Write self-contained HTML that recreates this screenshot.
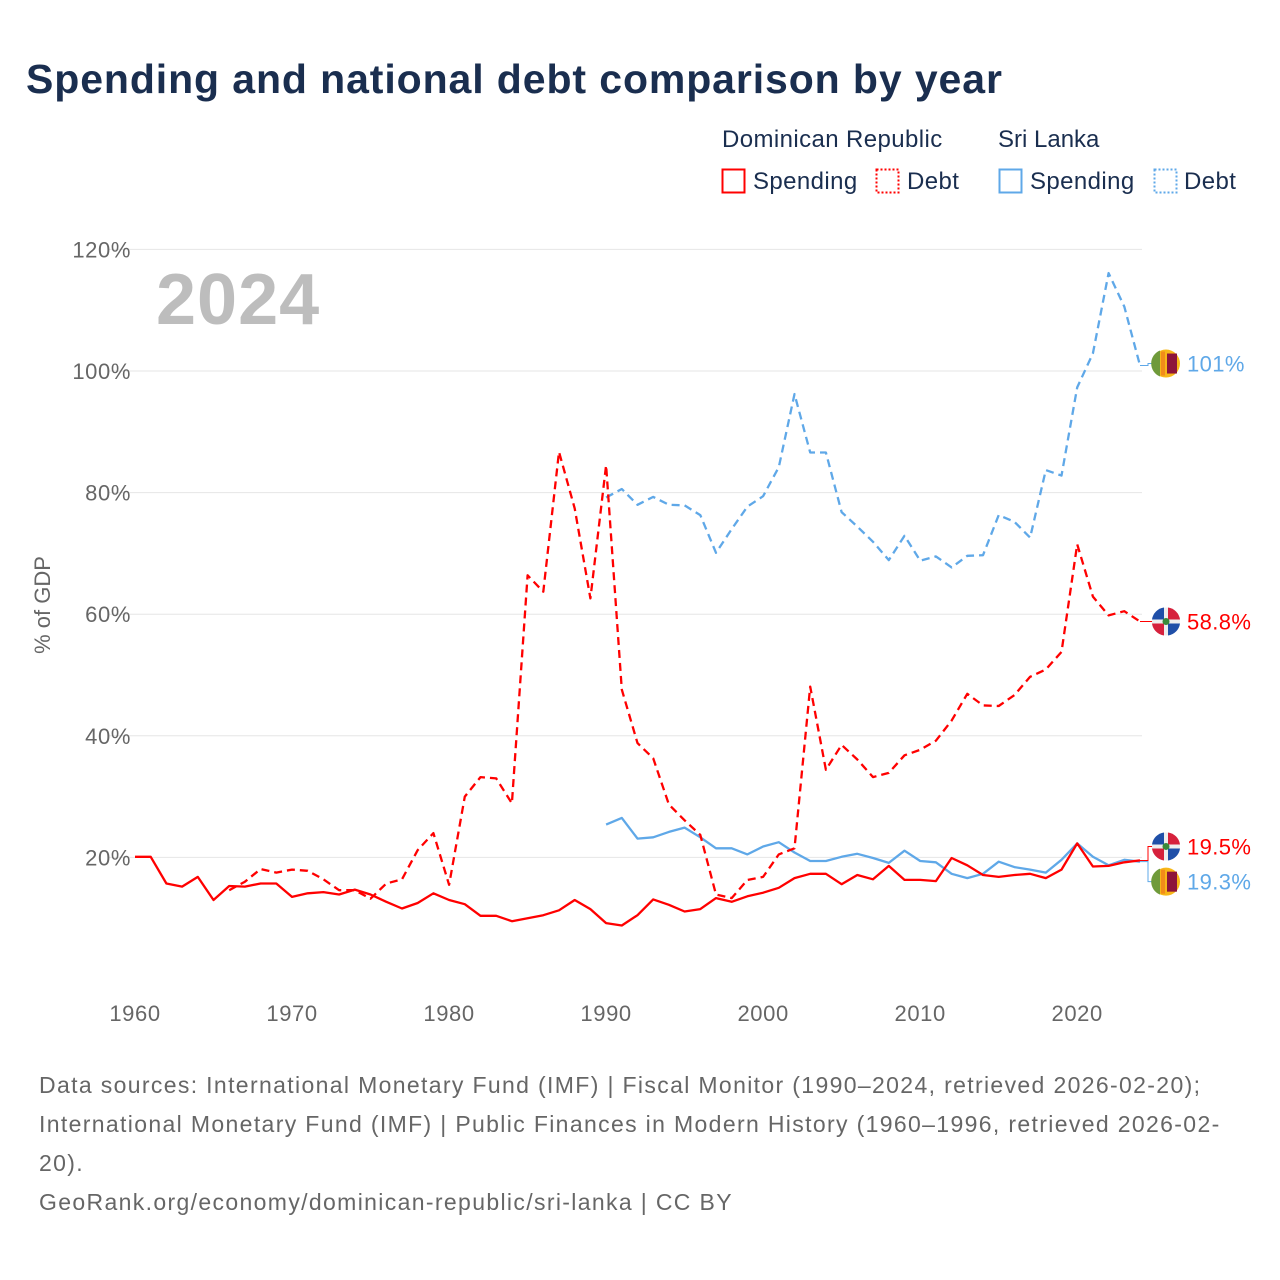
<!DOCTYPE html>
<html><head><meta charset="utf-8"><style>
body{margin:0;background:#fff;font-family:"Liberation Sans",sans-serif}
#wrap{position:relative;width:1280px;height:1280px;overflow:hidden}
svg text{font-family:"Liberation Sans",sans-serif}
</style></head><body>
<div id="wrap">
<svg id="chart" width="1280" height="1280">
<text x="26" y="93" font-size="41" font-weight="bold" fill="#1a2e4f" letter-spacing="0.9">Spending and national debt comparison by year</text>
<g>
<text x="722" y="147" font-size="24" fill="#1a2e4f" letter-spacing="0.4">Dominican Republic</text>
<text x="998" y="147" font-size="24" fill="#1a2e4f">Sri Lanka</text>
<rect x="722.5" y="169.5" width="22" height="23" fill="none" stroke="#f00" stroke-width="2"/>
<text x="753" y="189" font-size="24" fill="#1a2e4f" letter-spacing="0.4">Spending</text>
<rect x="876.5" y="169.5" width="22" height="23" fill="none" stroke="#f00" stroke-width="2" stroke-dasharray="2,2"/>
<text x="907" y="189" font-size="24" fill="#1a2e4f" letter-spacing="0.4">Debt</text>
<rect x="999.5" y="169.5" width="22" height="23" fill="none" stroke="#5fa8e8" stroke-width="2"/>
<text x="1030" y="189" font-size="24" fill="#1a2e4f" letter-spacing="0.4">Spending</text>
<rect x="1154.5" y="169.5" width="22" height="23" fill="none" stroke="#5fa8e8" stroke-width="2" stroke-dasharray="2,2"/>
<text x="1184" y="189" font-size="24" fill="#1a2e4f" letter-spacing="0.4">Debt</text>
</g>
<text x="156" y="324" font-size="72" font-weight="bold" fill="#bdbdbd" letter-spacing="1">2024</text>
<text transform="translate(50,605) rotate(-90)" text-anchor="middle" font-size="22" fill="#666">% of GDP</text>
<g id="grid"></g><g id="series"></g><g id="ends"></g>
<g font-size="23" fill="#666" letter-spacing="1.35">
<text x="39" y="1093">Data sources: International Monetary Fund (IMF) | Fiscal Monitor (1990–2024, retrieved 2026-02-20);</text>
<text x="39" y="1132">International Monetary Fund (IMF) | Public Finances in Modern History (1960–1996, retrieved 2026-02-</text>
<text x="39" y="1171">20).</text>
<text x="39" y="1210">GeoRank.org/economy/dominican-republic/sri-lanka | CC BY</text>
</g>
</svg></div>
<script>
const yTicks=[20,40,60,80,100,120];
const xTicks=[1960,1970,1980,1990,2000,2010,2020];
const drSpendStart=1960;
const drSpending=[20.1,20.1,15.7,15.2,16.8,13.0,15.3,15.2,15.7,15.7,13.5,14.1,14.3,13.9,14.7,13.9,12.7,11.6,12.5,14.1,13.0,12.3,10.4,10.4,9.5,10.0,10.5,11.3,13.0,11.5,9.2,8.8,10.5,13.1,12.2,11.1,11.5,13.3,12.7,13.6,14.2,15.0,16.6,17.3,17.3,15.6,17.1,16.4,18.6,16.3,16.3,16.1,19.9,18.7,17.1,16.8,17.1,17.3,16.6,18.0,22.3,18.5,18.6,19.2,19.5];
const drDebtStart=1966;
const drDebt=[14.6,16.0,18.1,17.5,18.0,17.8,16.4,14.6,14.6,13.2,15.7,16.4,21.2,24.0,15.5,30.0,33.2,33.0,28.9,66.4,63.7,86.7,77.4,62.6,84.5,47.6,38.8,36.3,28.7,26.1,23.7,13.9,13.3,16.3,16.8,20.5,21.5,48.1,34.4,38.5,36.1,33.2,33.9,36.8,37.7,39.2,42.5,46.9,45.0,44.9,46.7,49.7,50.9,53.8,71.5,62.9,59.8,60.5,58.8];
const slStart=1990;
const slSpending=[25.4,26.5,23.1,23.3,24.2,24.9,23.3,21.5,21.5,20.5,21.8,22.5,20.8,19.4,19.4,20.1,20.6,19.9,19.1,21.1,19.4,19.2,17.3,16.6,17.3,19.3,18.4,18.0,17.5,19.6,22.3,20.1,18.7,19.6,19.3];
const slDebt=[79.2,80.6,78.0,79.3,78.0,77.9,76.3,70.1,74.0,77.7,79.4,84.2,96.2,86.6,86.6,76.8,74.4,71.9,68.9,72.9,68.8,69.5,67.7,69.6,69.7,76.3,75.2,72.6,83.7,82.8,97.3,102.9,116.1,110.6,100.9];
const endLabels=["101%","58.8%","19.5%","19.3%"];

const NS="http://www.w3.org/2000/svg";
const X0=135,X1=1140,Y0=979,YS=6.08;
function xs(yr){return X0+(yr-1960)*(X1-X0)/64;}
function ys(v){return Y0-v*YS;}
function mk(tag,attrs,parent){const e=document.createElementNS(NS,tag);for(const k in attrs)e.setAttribute(k,attrs[k]);parent.appendChild(e);return e;}
const grid=document.getElementById('grid');
yTicks.forEach(t=>{
  const l=mk('line',{x1:108,x2:1142,y1:ys(t),y2:ys(t),stroke:'#e6e6e6','stroke-width':1},grid);
  
  
  const tx=mk('text',{x:131,y:ys(t)+8,'text-anchor':'end','font-size':22,fill:'#666','letter-spacing':0.6},grid);
  tx.textContent=t+'%';
  
  
});
xTicks.forEach(t=>{
  const tx=mk('text',{x:xs(t),y:1021,'text-anchor':'middle','font-size':22,fill:'#666','letter-spacing':0.6},grid);
  tx.textContent=t;
  
  
});
const ser=document.getElementById('series');
function line(vals,start,color,dash,name){
  const d=vals.map((v,i)=>(i?'L':'M')+xs(start+i).toFixed(1)+','+ys(v).toFixed(1)).join('');
  const p=mk('path',{d:d,fill:'none',stroke:color,'stroke-width':2.3,'stroke-linejoin':'round'},ser);
  if(dash)p.setAttribute('stroke-dasharray','8,5');
  
  
}
const RED='#ff0000',BLUE='#5fa8e8';
line(slDebt,slStart,BLUE,true,'sri-lanka-debt-line');
line(slSpending,slStart,BLUE,false,'sri-lanka-spending-line');
line(drDebt,drDebtStart,RED,true,'dominican-republic-debt-line');
line(drSpending,drSpendStart,RED,false,'dominican-republic-spending-line');

const ends=document.getElementById('ends');
function flagSL(cx,cy,g){
  mk('circle',{cx:cx,cy:cy,r:14,fill:'#f7b718'},g);
  mk('path',{d:`M${cx-6},${cy-13}A14,14 0 0 0 ${cx-6},${cy+13}Z`,fill:'#6f9a3a'},g);
  mk('rect',{x:cx-5,y:cy-12,width:4,height:24,fill:'#f28c1a'},g);
  mk('rect',{x:cx+1,y:cy-10,width:10,height:20,fill:'#8d153a'},g);
}
function flagDR(cx,cy,g){
  mk('circle',{cx:cx,cy:cy,r:14,fill:'#eee'},g);
  mk('path',{d:`M${cx-14},${cy-2}A14,14 0 0 1 ${cx-2},${cy-14}L${cx-2},${cy-2}Z`,fill:'#1f4fa8'},g);
  mk('path',{d:`M${cx+2},${cy-14}A14,14 0 0 1 ${cx+14},${cy-2}L${cx+2},${cy-2}Z`,fill:'#d6213c'},g);
  mk('path',{d:`M${cx-14},${cy+2}L${cx-2},${cy+2}L${cx-2},${cy+14}A14,14 0 0 1 ${cx-14},${cy+2}Z`,fill:'#d6213c'},g);
  mk('path',{d:`M${cx+2},${cy+2}L${cx+14},${cy+2}A14,14 0 0 1 ${cx+2},${cy+14}Z`,fill:'#1f4fa8'},g);
  mk('circle',{cx:cx,cy:cy,r:3.5,fill:'#3a8a3a'},g);
}
const endDefs=[
 {v:slDebt[slDebt.length-1],y:ys(slDebt[slDebt.length-1])-2,c:BLUE,f:flagSL,n:'end-label-sl-debt'},
 {v:drDebt[drDebt.length-1],y:ys(drDebt[drDebt.length-1]),c:RED,f:flagDR,n:'end-label-dr-debt'},
 {v:drSpending[drSpending.length-1],y:ys(drSpending[drSpending.length-1])-14,c:RED,f:flagDR,n:'end-label-dr-spending'},
 {v:slSpending[slSpending.length-1],y:ys(slSpending[slSpending.length-1])+20,c:BLUE,f:flagSL,n:'end-label-sl-spending'}
];
endDefs.forEach((e,i)=>{
  const g=mk('g',{},ends);
  
  
  const ly=ys(e.v);
  mk('path',{d:`M${X1},${ly}L${X1+8},${ly}L${X1+8},${e.y}L${X1+14},${e.y}`,fill:'none',stroke:e.c,'stroke-width':1},g);
  e.f(1166,e.y,g);
  const t=mk('text',{x:1187,y:e.y+8,'font-size':22,fill:e.c,'letter-spacing':0.4},g);
  t.textContent=endLabels[i];
});
</script>
</body></html>
